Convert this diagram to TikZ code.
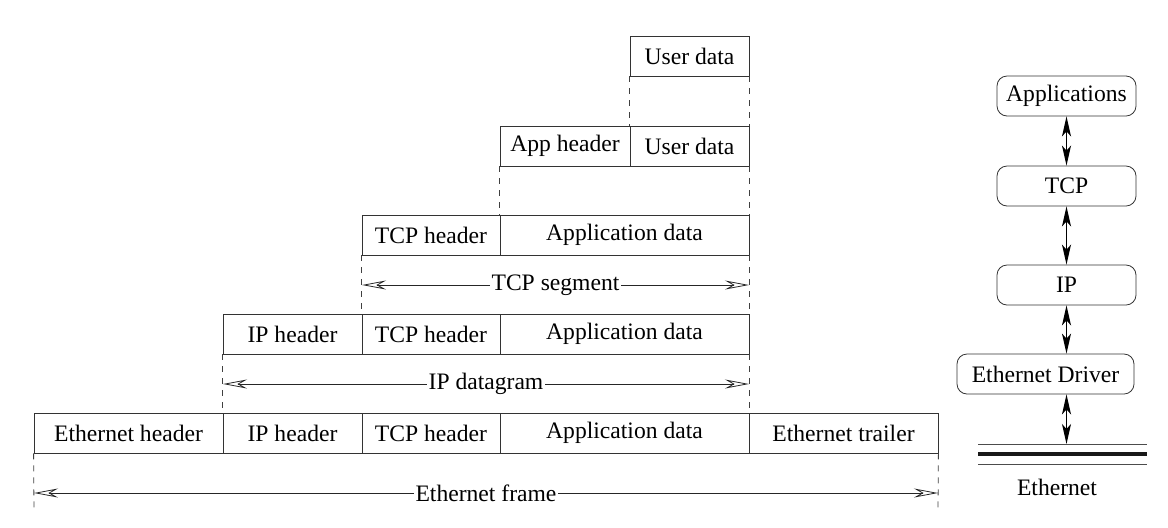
\documentclass[tikz,border=0pt]{standalone}
\usepackage{fontspec}
\setmainfont{Liberation Serif}
\usetikzlibrary{arrows.meta}

\begin{document}
\begin{tikzpicture}[x=0.5pt,y=-0.5pt,font=\rmfamily\fontsize{11.8}{14}\selectfont]
\useasboundingbox (0,0) rectangle (1168,527);
\begin{scope}[every node/.style={rectangle,draw=black!80,minimum height=20pt,inner sep=0pt}]
    \node[minimum width=59.5pt] (ud1) at (689.5,56) {User data};
    \node[minimum width=65pt] (ah2) at (565,146) {App header};
    \node[minimum width=59.5pt] (ud2) at (689.5,146) {User data};
    \node[minimum width=69pt] (th3) at (431,235) {TCP header};
    \node[minimum width=124.5pt] (ad3) at (624.5,235) {Application data};
    \node[minimum width=69.5pt] (ih4) at (292.5,334) {IP header};
    \node[minimum width=69pt] (th4) at (431,334) {TCP header};
    \node[minimum width=124.5pt] (ad4) at (624.5,334) {Application data};
    \node[minimum width=94.5pt] (eh5) at (128.5,433) {Ethernet header};
    \node[minimum width=69.5pt] (ih5) at (292.5,433) {IP header};
    \node[minimum width=69pt] (th5) at (431,433) {TCP header};
    \node[minimum width=124.5pt] (ad5) at (624.5,433) {Application data};
    \node[minimum width=94.5pt] (et5) at (843.5,433) {Ethernet trailer};
\end{scope}
\coordinate (tcpL) at (362,285);
\coordinate (tcpR) at (749,285);
\coordinate (ipL) at (223,384);
\coordinate (ipR) at (749,384);
\coordinate (ethL) at (34,493);
\coordinate (ethR) at (938,493);
\coordinate (endL) at (34,513);
\coordinate (endR) at (938,513);
\begin{scope}[every edge/.style={draw=black!75,dash pattern=on 3pt off 3pt}]
    \path (ud1.south west) edge (ud2.north west);
    \path (ud1.south east) edge (ud2.north east);
    \path (ah2.south west) edge (ad3.north west);
    \path (ud2.south east) edge (ad3.north east);
    \path (th3.south west) edge (th4.north west);
    \path (ad3.south east) edge (ad4.north east);
    \path (ih4.south west) edge (ih5.north west);
    \path (ad4.south east) edge (ad5.north east);
    \path (eh5.south west) edge (endL);
    \path (et5.south east) edge (endR);
\end{scope}
\begin{scope}[every node/.style={fill=white,inner sep=1pt},
              every edge/.style={draw=black!85,{Stealth[open,length=12pt,width=4.5pt,inset=4pt]}-{Stealth[open,length=12pt,width=4.5pt,inset=4pt]}}]
    \path (tcpL) edge node {TCP segment} (tcpR);
    \path (ipL) edge node {IP datagram} (ipR);
    \path (ethL) edge node {Ethernet frame} (ethR);
\end{scope}
% protocol stack
\begin{scope}[every node/.style={rectangle,rounded corners=5pt,draw=black!80,minimum height=20pt,inner sep=2pt}]
    \node[minimum width=69.5pt] (app) at (1066.5,96) {Applications};
    \node[minimum width=69.5pt] (tcp) at (1066.5,186) {TCP};
    \node[minimum width=69.5pt] (ip) at (1066.5,285) {IP};
    \node[minimum width=88.5pt] (drv) at (1045.5,374) {Ethernet Driver};
\end{scope}
\coordinate (busL) at (978,454);
\coordinate (busR) at (1147,454);
\coordinate (bus) at (1066.5,444);
\draw[draw=black!70,line width=0.5pt] ([yshift=5pt]busL) -- ([yshift=5pt]busR);
\draw[draw=black!90,line width=1.6pt] (busL) -- (busR);
\draw[draw=black!70,line width=0.5pt] ([yshift=-5pt]busL) -- ([yshift=-5pt]busR);
\node (ethnet) at (1057,487) {Ethernet};
\begin{scope}[every edge/.style={draw=black,line width=0.7pt,{Stealth[length=10pt,width=4.5pt,inset=2.5pt]}-{Stealth[length=10pt,width=4.5pt,inset=2.5pt]}}]
    \path (app.south) edge (tcp.north);
    \path (tcp.south) edge (ip.north);
    \path (ip.south) edge (ip.south |- drv.north);
    \path (ip.south |- drv.south) edge (bus);
\end{scope}
\end{tikzpicture}
\end{document}
